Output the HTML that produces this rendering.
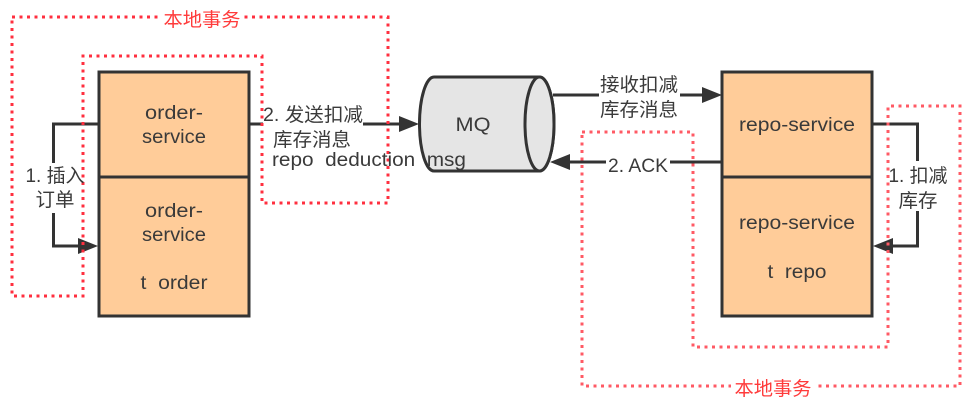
<!DOCTYPE html>
<html>
<head>
<meta charset="utf-8">
<style>
html,body{margin:0;padding:0;background:#fff;width:973px;height:407px;overflow:hidden}
svg{display:block}
text{font-family:"Liberation Sans","Noto Sans CJK SC",sans-serif;font-size:19px;fill:#3a3a3a;text-anchor:middle}
.red{fill:#ff3b3b}
</style>
</head>
<body>
<svg width="973" height="407" viewBox="0 0 973 407" xmlns="http://www.w3.org/2000/svg">
  <!-- boxes -->
  <g fill="#ffcc99" stroke="#333" stroke-width="3">
    <rect x="99" y="72" width="150" height="105"/>
    <rect x="99" y="177" width="150" height="139"/>
    <rect x="722" y="72" width="150" height="105"/>
    <rect x="722" y="177" width="150" height="139"/>
  </g>
  <!-- cylinder -->
  <path d="M434 77H539.5C547.5 77 554 98 554 124S547.5 171 539.5 171H434C426 171 419.500 150 419.500 124S426 77 434 77Z" fill="#e5e5e5" stroke="#333" stroke-width="3"/>
  <ellipse cx="539.500" cy="124" rx="14.500" ry="47" fill="#e5e5e5" stroke="#333" stroke-width="3"/>
  <!-- connectors -->
  <g fill="none" stroke="#333" stroke-width="3">
    <path d="M99 124H53.500V246H84"/>
    <path d="M249 124H404"/>
    <path d="M553 95H706"/>
    <path d="M722 162H566"/>
    <path d="M872 124H917.500V246H888"/>
  </g>
  <g fill="#333">
    <path d="M98 246L78 238V254Z"/>
    <path d="M419 124L399 116V132Z"/>
    <path d="M722 95L702 87V103Z"/>
    <path d="M550 162L570 154V170Z"/>
    <path d="M873 246L893 238V254Z"/>
  </g>
  <!-- label backgrounds -->
  <g fill="#fff">
    <rect x="25" y="163" width="60" height="50"/>
    <rect x="263" y="103" width="100" height="24"/>
    <rect x="599" y="75" width="81" height="44"/>
    <rect x="606" y="150" width="64" height="24"/>
    <rect x="887" y="161" width="60" height="50"/>
  </g>
  <!-- dotted regions -->
  <g fill="none" stroke-width="3" stroke-dasharray="3 4.500">
    <path d="M12 17H388V203H262V56H83V296H12Z" stroke="#ff2f3f"/>
    <path d="M582 132H693V347H888V106H960V386H582Z" stroke="#ff5a64"/>
  </g>
  <rect x="158" y="6" width="86" height="22" fill="#fff"/>
  <rect x="731" y="377" width="84" height="20" fill="#fff"/>
  <!-- labels -->
  <text class="red" x="202" y="26" textLength="77" lengthAdjust="spacingAndGlyphs">本地事务</text>
  <text class="red" x="773" y="395" textLength="77" lengthAdjust="spacingAndGlyphs">本地事务</text>

  <text x="174" y="119" textLength="58" lengthAdjust="spacingAndGlyphs">order-</text>
  <text x="174" y="143" textLength="64" lengthAdjust="spacingAndGlyphs">service</text>
  <text x="174" y="217" textLength="58" lengthAdjust="spacingAndGlyphs">order-</text>
  <text x="174" y="241" textLength="64" lengthAdjust="spacingAndGlyphs">service</text>
  <text x="174" y="289" textLength="67" lengthAdjust="spacingAndGlyphs">t&#160;&#160;order</text>

  <text x="797" y="131" textLength="116" lengthAdjust="spacingAndGlyphs">repo-service</text>
  <text x="797" y="229" textLength="116" lengthAdjust="spacingAndGlyphs">repo-service</text>
  <text x="797" y="278" textLength="59" lengthAdjust="spacingAndGlyphs">t&#160;&#160;repo</text>

  <text x="473" y="131" textLength="35" lengthAdjust="spacingAndGlyphs">MQ</text>

  <text x="55" y="182" textLength="59" lengthAdjust="spacingAndGlyphs">1. 插入</text>
  <text x="55" y="206" textLength="39" lengthAdjust="spacingAndGlyphs">订单</text>

  <text x="313" y="121" textLength="100" lengthAdjust="spacingAndGlyphs">2. 发送扣减</text>
  <text x="312" y="146" textLength="78" lengthAdjust="spacingAndGlyphs">库存消息</text>
  <text x="369" y="166" textLength="194" lengthAdjust="spacingAndGlyphs">repo&#160;&#160;deduction&#160;&#160;msg</text>

  <text x="639" y="91" textLength="78" lengthAdjust="spacingAndGlyphs">接收扣减</text>
  <text x="639" y="116" textLength="78" lengthAdjust="spacingAndGlyphs">库存消息</text>
  <text x="638" y="172" textLength="60" lengthAdjust="spacingAndGlyphs">2. ACK</text>

  <text x="918" y="182" textLength="59" lengthAdjust="spacingAndGlyphs">1. 扣减</text>
  <text x="918" y="207" textLength="39" lengthAdjust="spacingAndGlyphs">库存</text>
</svg>
</body>
</html>
